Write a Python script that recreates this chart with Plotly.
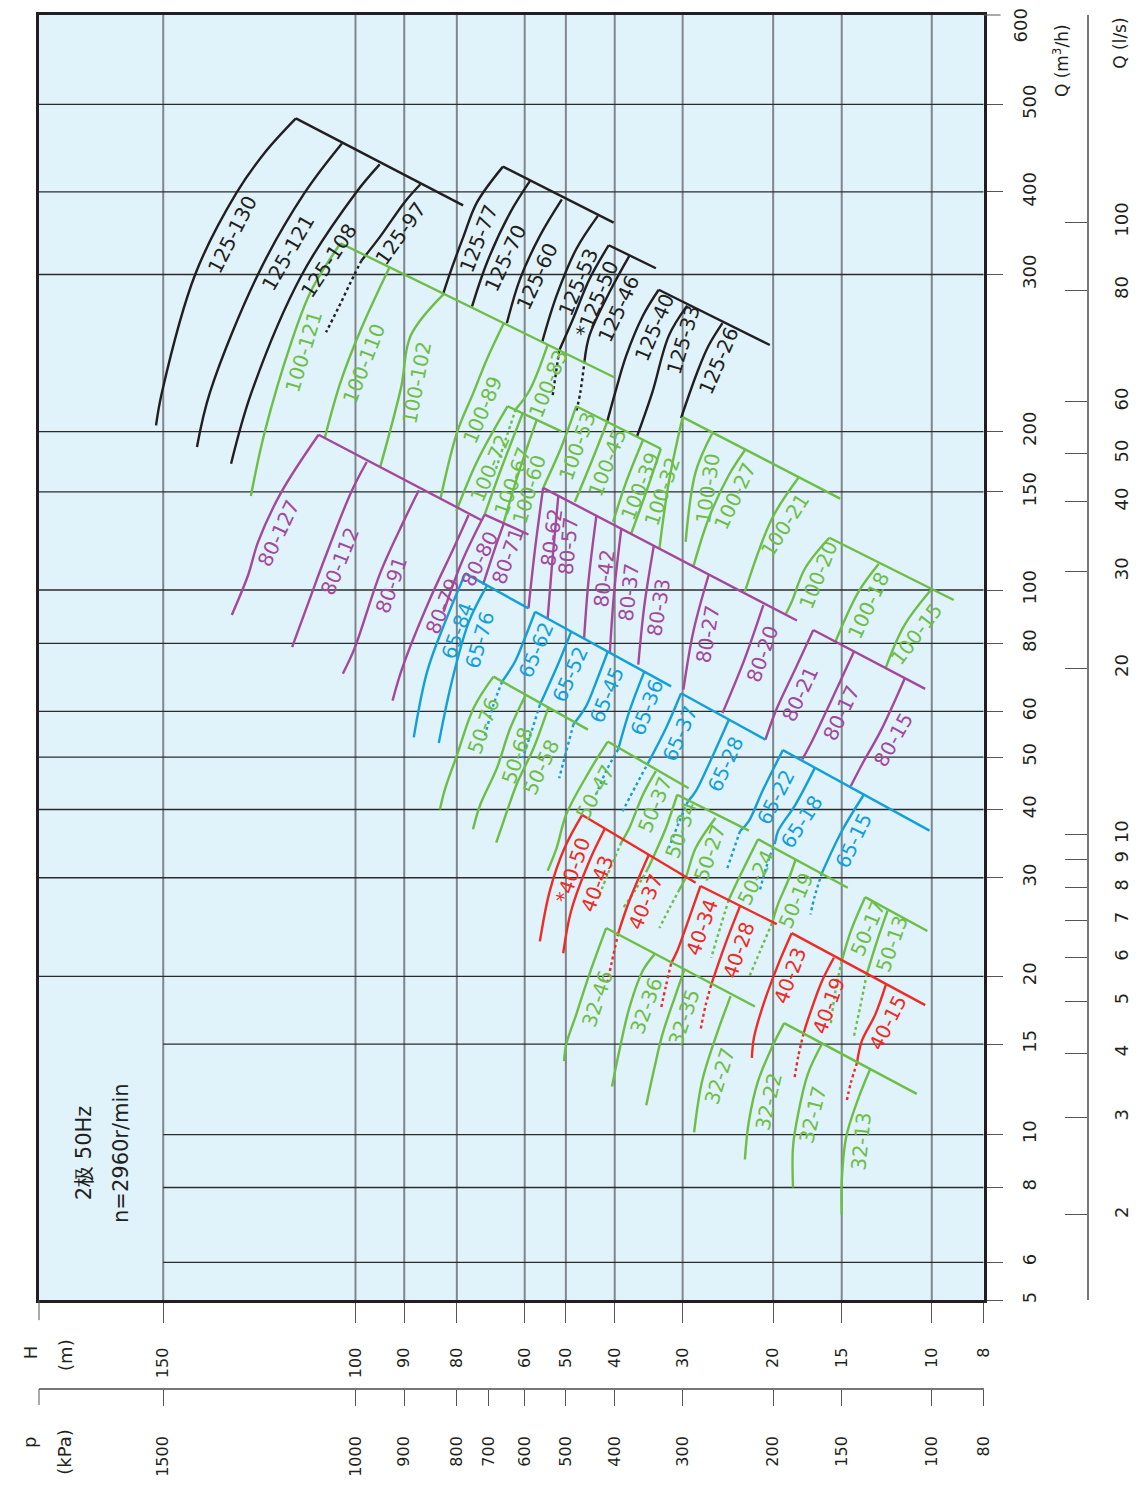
import math
import plotly.graph_objects as go

FONT = "DejaVu Sans"
INK = "#231f20"
BLACK = "#231f20"
GREEN = "#6dbe45"
PURPLE = "#a3489c"
BLUE = "#139fd8"
RED = "#ee2b24"
PLOT_BG = "#e0f2fa"

# ---------------------------------------------------------------------------
# Axis definitions: the grid is logarithmic, with the upper head/flow range
# drawn at an enlarged scale, so each axis is defined by where its printed
# ticks sit along the plot (0 = left/bottom, 1 = right/top).
# ---------------------------------------------------------------------------
H_TICKS = [150, 100, 90, 80, 60, 50, 40, 30, 20, 15, 10, 8]
H_TICK_AT = [0.1315, 0.3350, 0.3866, 0.4423, 0.5141, 0.5577, 0.6094, 0.6813, 0.7771, 0.8497, 0.9450, 1.0]
Q_TICKS = [600, 500, 400, 300, 200, 150, 100, 80, 60, 50, 40, 30, 20, 15, 10, 8, 6, 5]
Q_TICK_AT = [1.0, 0.9304, 0.8623, 0.7981, 0.6759, 0.6289, 0.5526, 0.5111, 0.4581, 0.4226,
             0.3818, 0.3287, 0.2519, 0.1993, 0.1289, 0.0877, 0.0295, 0.0]
P_TICKS = [1500, 1000, 900, 800, 700, 600, 500, 400, 300, 200, 150, 100, 80]      # kPa
LS_TICKS = [100, 80, 60, 50, 40, 30, 20, 10, 9, 8, 7, 6, 5, 4, 3, 2]              # l/s
V_GRID = [150, 100, 90, 80, 60, 50, 40, 30, 20, 15, 10]
H_GRID = [500, 400, 300, 200, 150, 100, 80, 60, 50, 40, 30, 20, 15, 10, 8, 6]

# ---------------------------------------------------------------------------
# Pump curves, H in m and Q in m3/h, listed from the high-flow end downwards.
# *_END is the far end of the line that joins the high-flow ends of a family.
# *_EXT holds the dotted continuation of a curve (None when there is none).
# ---------------------------------------------------------------------------
F125A_MODELS = ["125-130", "125-121", "125-108", "125-97"]
F125A_H = [[113.4, 121.1, 128.5, 140.2, 150.4, 152.3], [102.9, 111.3, 122.8, 135.9, 139.7],
           [94.9, 99.9, 112.1, 124.5, 130.0], [86.8, 90.0, 94.7, 98.7]]
F125A_Q = [[482.5, 442.1, 399, 300.3, 221.4, 203.2], [452.7, 399, 300.3, 221.4, 185.8],
           [429.2, 399, 299, 221.4, 171.6], [407.9, 385.4, 343.2, 315.0]]
F125A_EXT = [None, None, None, ([98.7, 100.2, 103.1, 106.4], [315, 300.3, 279.1, 258.4])]
F125A_END = (77.9, 381.8)
F125A_LABEL_AT = [0.39, 0.36, 0.32, 0.53]

F125B_MODELS = ["125-77", "125-70", "125-60", "125-53"]
F125B_H = [[65.8, 73.5, 77.7, 81.4, 82.5], [58.6, 63.8, 70.4, 75.0],
           [50.9, 56.1, 61.2, 64.7], [43.2, 47.7, 52.1, 55.5]]
F125B_Q = [[426.7, 385.4, 343.2, 299.0, 285.2], [411.4, 372.2, 312.8, 276.3],
           [389.8, 343.2, 296.4, 264.6], [368, 327.6, 284, 252.3]]
F125B_EXT = None
F125B_END = (40.2, 359.5)
F125B_LABEL_AT = [0.54, 0.58, 0.59, 0.5]

F125C_MODELS = ["*125-50", "125-46"]
F125C_H = [[41.1, 44.9, 48.4, 51.5], [37.6, 41.0, 44.9, 45.9]]
F125C_Q = [[332.2, 296.4, 267.4, 246.5], [320.2, 286.4, 256.2, 240.4]]
F125C_EXT = [([51.5, 53.0], [246.5, 219.7]), ([45.9, 46.8, 47.7], [240.4, 221.4, 210.3])]
F125C_END = (33.6, 306.6)
F125C_LABEL_AT = [0.47, 0.46]

F125D_MODELS = ["125-40", "125-33", "125-26"]
F125D_H = [[33.2, 35.5, 38.1, 39.9, 41.4], [29.4, 31.8, 34.1, 36.4], [25.1, 26.7, 28.1, 30.2]]
F125D_Q = [[288.4, 269.7, 243.3, 221.4, 205.2], [276.8, 256.2, 221.4, 195.3], [264.6, 249.7, 233.1, 207.1]]
F125D_EXT = None
F125D_END = (20.3, 250.1)
F125D_LABEL_AT = [0.26, 0.25, 0.35]

F100A_MODELS = ["100-121", "100-110", "100-102", "100-89", "100-83"]
F100A_H = [[103.2, 109.8, 114.5, 121.1, 124.7], [93.0, 98.8, 103.2, 106.7], [82.4, 88.7, 90.6, 94.8],
           [65.6, 70.4, 74.5, 79.9, 83.0], [54.2, 58.7, 62.3]]
F100A_Q = [[334.5, 287.7, 251.8, 199.5, 147.5], [306.6, 260.6, 227.2, 193.9], [285.2, 256.2, 224.3, 168.9],
           [264.4, 241.2, 221.4, 199.5, 145.7], [250.1, 222.5, 211.9]]
F100A_EXT = [None, None, None, None, ([62.3, 65.0, 67.8], [211.9, 193.0, 167.3])]
F100A_END = (40.1, 230.1)
F100A_LABEL_AT = [0.43, 0.54, 0.52, 0.47, 0.5]

F100B_MODELS = ["100-72", "100-67", "100-60"]
F100B_H = [[64.5, 73.5, 80.1], [60.5, 66.1, 71.1], [56.9, 61.5, 65.6]]
F100B_Q = [[213.5, 173.0, 138.5], [209.7, 168.9, 136.6], [206.0, 165.0, 132.0]]
F100B_EXT = None
F100B_END = (51.0, 200.1)
F100B_LABEL_AT = [0.55, 0.62, 0.64]

F100C_MODELS = ["100-53", "100-45", "100-39", "100-32"]
F100C_H = [[47.7, 51.0, 55.3], [41.3, 44.5, 48.0], [35.5, 38.1, 40.3], [32.9, 35.0, 37.3]]
F100C_Q = [[213.5, 185.8, 152.9], [205.8, 173.0, 143.9], [191.8, 157.3, 132.5], [184.3, 150, 126.3]]
F100C_EXT = None
F100C_END = (32.9, 184.3)
F100C_LABEL_AT = [0.42, 0.45, 0.5, 0.45]

F100D_MODELS = ["", "100-30", "100-27", "100-21"]
F100D_H = [[30.0, 31.8, 33.1], [26.3, 28.3, 29.6], [22.7, 24.4, 26.7, 28.6], [18.0, 20.1, 22.7]]
F100D_Q = [[207.6, 157.3, 118.7], [197.9, 165.0, 122.0], [182.9, 162.4, 134.4, 110.1], [160.3, 134.4, 99.3]]
F100D_EXT = None
F100D_END = (15.1, 145.9)
F100D_LABEL_AT = [0.5, 0.5, 0.36, 0.37]

F100E_MODELS = ["100-20", "100-18", "100-15"]
F100E_H = [[15.8, 17.5, 18.5, 19.0], [12.7, 13.9, 15.4], [10.0, 11.3, 12.3]]
F100E_Q = [[124.1, 109.3, 95.2, 90.1], [111.3, 99.3, 80.6], [100.4, 86.4, 72.2]]
F100E_EXT = None
F100E_END = (9.1, 95.9)
F100E_LABEL_AT = [0.45, 0.47, 0.49]

F80A_MODELS = ["80-127", "80-112", "80-91", "80-79"]
F80A_H = [[108.1, 116.9, 122.8, 125.4, 129.8], [97.6, 100.9, 106.7, 109.8, 114.3],
          [87.1, 90.0, 94.7, 100.2, 102.7], [76.1, 80.6, 84.9, 90.4, 92.3]]
F80A_Q = [[197, 150, 122, 106.4, 90.1], [173, 150, 113.9, 97.9, 78.7],
          [151.2, 133.5, 107.8, 78.3, 70.4], [136.3, 118.7, 96.6, 72.0, 62.8]]
F80A_EXT = None
F80A_END = (72.2, 133.6)
F80A_LABEL_AT = [0.53, 0.51, 0.5, 0.47]

F80B_MODELS = ["80-80", "80-71"]
F80B_H = [[71.1, 78.3, 82.4], [65.6, 68.4, 71.6]]
F80B_Q = [[136.6, 112.4, 91.3], [131.4, 117.1, 102.2]]
F80B_EXT = None
F80B_END = (59.0, 125.8)
F80B_LABEL_AT = [0.4, 0.45]

F80C_MODELS = ["80-62", "80-57", "80-42", "80-37", "80-33", "80-27", "80-20"]
F80C_H = [[55.3, 57.4, 59.0], [51.7, 53.1, 54.2], [43.5, 45.1, 46.0], [38.9, 40.1, 40.9],
          [33.9, 35.3, 36.2], [26.7, 28.6, 29.9], [20.9, 22.7, 25.1]]
F80C_Q = [[152.9, 117.1, 92.6], [147.5, 112.4, 88.7], [135.9, 103.5, 81.8], [128.8, 99.3, 76.9],
          [120.0, 93.3, 73.1], [106.4, 84.0, 65.8], [93.9, 75.1, 59.6]]
F80C_EXT = None
F80C_END = (18.1, 88.0)
F80C_LABEL_AT = [0.4, 0.4, 0.5, 0.5, 0.5, 0.5, 0.4]

F80E_MODELS = ["80-21", "80-17", "80-15"]
F80E_H = [[16.9, 18.2, 19.8, 20.7], [14.2, 15.7, 17.0, 17.7], [11.3, 12.6, 13.7, 14.4]]
F80E_Q = [[84.6, 72.0, 60.0, 53.6], [77.2, 62.6, 53.2, 49.5], [68.9, 55.4, 48.4, 44.2]]
F80E_EXT = None
F80E_END = (10.3, 66.0)
F80E_LABEL_AT = [0.53, 0.51, 0.49]

F65A_MODELS = ["65-84", "65-76"]
F65A_H = [[77.2, 82.1, 85.5, 88.1], [70.4, 76.0, 80.9, 83.3]]
F65A_Q = [[107.1, 87.6, 71.0, 54.1], [101.8, 87.6, 68.1, 52.9]]
F65A_EXT = None
F65A_END = (59.0, 92.6)
F65A_LABEL_AT = [0.33, 0.33]

F65B_MODELS = ["65-62", "65-52", "65-45", "65-36"]
F65B_H = [[57.3, 60.3, 62.5, 66.0], [48.8, 51.5, 56.1], [41.3, 43.5, 45.6, 48.3], [35.3, 37.6, 39.4]]
F65B_Q = [[91.3, 80.6, 74.1, 68.1], [84.0, 74.1, 61.7], [77.2, 68.1, 61.3, 57.0], [70.9, 60.0, 51.6]]
F65B_EXT = [([66.0, 68.5, 71.2], [68.1, 61.7, 53.8]), ([56.1, 58.2, 60.5], [61.7, 55.4, 49.8]),
            ([48.3, 49.9, 51.5], [57.0, 51.2, 45.7]), ([39.4, 41.6, 43.5], [51.6, 47.1, 42.7])]
F65B_END = (31.5, 66.7)
F65B_LABEL_AT = [0.45, 0.5, 0.5, 0.4]

F65C_MODELS = ["65-37", "65-28"]
F65C_H = [[30.2, 32.2, 34.6], [24.4, 26.7, 28.3, 29.3]]
F65C_Q = [[64.8, 56.1, 49.1], [58.0, 48.4, 43.2, 41.4]]
F65C_EXT = [([34.6, 36.6, 38.7], [49.1, 44.2, 39.7]), ([29.3, 30.5, 31.8], [41.4, 37.8, 34.0])]
F65C_END = (20.7, 53.6)
F65C_LABEL_AT = [0.5, 0.45]

F65D_MODELS = ["65-22", "65-18", "65-15"]
F65D_H = [[19.2, 21.0, 22.3, 23.2], [16.8, 18.2, 19.6, 19.8], [13.6, 15.0, 16.3]]
F65D_Q = [[51.4, 43.2, 38.1, 36.5], [47.7, 40.9, 36.5, 35.0], [42.5, 36.5, 30.6]]
F65D_EXT = [([23.2, 24.6], [36.5, 31.1]), ([19.8, 20.6, 21.2], [35.0, 31.5, 28.6]),
            ([16.3, 16.8, 17.1], [30.6, 27.8, 25.8])]
F65D_END = (10.1, 36.6)
F65D_LABEL_AT = [0.49, 0.63, 0.52]

F50A_MODELS = ["50-76", "50-68", "50-58"]
F50A_H = [[68.5, 74.5, 79.9, 82.1, 83.1], [59.7, 63.8, 67.5, 72.4, 74.7], [54.1, 57.7, 62.1, 65.6, 67.7]]
F50A_Q = [[69.5, 60.9, 50.5, 43.8, 40.0], [64.4, 56.1, 47.7, 40.9, 36.8], [60.8, 51.8, 44.5, 38.1, 34.8]]
F50A_EXT = None
F50A_END = (45.2, 55.8)
F50A_LABEL_AT = [0.35, 0.42, 0.39]

F50B_MODELS = ["50-47", "50-37"]
F50B_H = [[41.3, 44.9, 49.9, 52.1, 54.2], [33.6, 35.5, 37.6, 38.9]]
F50B_Q = [[53.2, 47.1, 39.2, 34.0, 30.9], [47.1, 42.6, 37.0, 34.8]]
F50B_EXT = [None, ([38.9, 41.2, 43.2], [34.8, 30.6, 27.5])]
F50B_END = (29.2, 43.8)
F50B_LABEL_AT = [0.35, 0.4]

F50C_MODELS = ["50-34", "50-27"]
F50C_H = [[30.7, 32.2, 33.8, 34.8], [25.9, 28.3, 29.6, 30.4]]
F50C_Q = [[42.6, 37.0, 33.1, 31.1], [38.6, 34.0, 30.0, 28.6]]
F50C_EXT = [([34.8, 36.6, 38.7], [31.1, 28.6, 26.4]), ([30.4, 31.7, 33.1], [28.6, 26.5, 24.4])]
F50C_END = (22.3, 36.6)
F50C_LABEL_AT = [0.4, 0.45]

F50D_MODELS = ["50-24", "50-19"]
F50D_H = [[21.4, 23.3, 24.4], [18.2, 18.8, 19.6, 20.1]]
F50D_Q = [[35.3, 30.0, 27.4], [32.4, 29.6, 26.9, 24.9]]
F50D_EXT = [([24.4, 25.3, 26.4], [27.4, 24.6, 21.6]), ([20.1, 21.2, 22.3], [24.9, 22.2, 19.9])]
F50D_END = (14.6, 28.8)
F50D_LABEL_AT = [0.53, 0.56]

F50E_MODELS = ["50-17", "50-13"]
F50E_H = [[13.5, 14.4, 15.0], [12.2, 12.8, 13.4]]
F50E_Q = [[27.7, 24.1, 21.3], [26.2, 23.1, 20.2]]
F50E_EXT = [([15.0, 15.4, 15.7], [21.3, 18.8, 16.4]), ([13.4, 13.8, 14.2], [20.2, 17.6, 15.5])]
F50E_END = (10.2, 24.1)
F50E_LABEL_AT = [0.4, 0.45]

F40A_MODELS = ["*40-50", "40-43", "40-37"]
F40A_H = [[46.4, 50.3, 53.7, 56.1], [41.9, 44.9, 48.8, 50.6], [34.6, 37.6, 39.4]]
F40A_Q = [[39.1, 34.0, 28.4, 23.1], [36.8, 32.2, 26.2, 22.0], [33.1, 27.3, 23.9]]
F40A_EXT = [None, None, ([39.4, 40.5, 41.3], [23.9, 21.3, 19.6])]
F40A_END = (28.3, 29.4)
F40A_LABEL_AT = [0.42, 0.41, 0.53]

F40B_MODELS = ["40-34", "40-28"]
F40B_H = [[27.7, 29.6, 30.7, 31.5], [23.2, 24.8, 26.4]]
F40B_Q = [[29.0, 24.4, 22.2, 21.1], [26.7, 22.8, 19.3]]
F40B_EXT = [([31.5, 32.2, 32.9], [21.1, 19.2, 17.4]), ([26.4, 27.1, 27.7], [19.3, 17.6, 15.9])]
F40B_END = (19.7, 24.8)
F40B_LABEL_AT = [0.47, 0.5]

F40C_MODELS = ["40-23", "40-19", "40-15"]
F40C_H = [[18.5, 19.7, 21.0, 21.8, 22.0], [15.5, 16.3, 17.3, 17.6], [12.3, 12.9, 13.7, 14.0]]
F40C_Q = [[23.9, 20.7, 17.5, 15.4, 14.1], [21.6, 19.6, 16.6, 15.7], [19.3, 17.0, 15.2, 13.8]]
F40C_EXT = [None, ([17.6, 18.0, 18.3], [15.7, 14.2, 12.8]), ([14.0, 14.4, 14.7], [13.8, 12.6, 11.5])]
F40C_END = (10.3, 17.7)
F40C_LABEL_AT = [0.31, 0.58, 0.4]

F32A_MODELS = ["32-46", "32-36", "32-35", "32-27"]
F32A_H = [[41.6, 44.9, 47.7, 49.9, 50.4], [33.8, 35.5, 37.6, 39.2, 40.5],
          [29.8, 30.9, 32.7, 33.8, 35.0], [24.2, 25.9, 27.5, 28.5]]
F32A_Q = [[24.4, 20.2, 17.0, 15.0, 13.9], [21.9, 20.5, 17.5, 14.6, 12.4],
          [20.5, 18.5, 15.6, 13.5, 11.4], [18.4, 15.4, 12.7, 10.1]]
F32A_EXT = None
F32A_END = (21.7, 17.6)
F32A_LABEL_AT = [0.5, 0.37, 0.32, 0.56]

F32B_MODELS = ["32-22", "32-17", "32-13"]
F32B_H = [[19.1, 20.1, 21.4, 22.3, 22.7], [16.3, 17.3, 18.0, 18.4, 18.4], [13.2, 13.9, 14.7, 15.0, 15.0]]
F32B_Q = [[16.4, 14.8, 12.7, 10.6, 9.0], [15.0, 13.1, 11.0, 9.5, 8.0], [13.4, 11.8, 9.9, 8.2, 7.2]]
F32B_EXT = None
F32B_END = (10.7, 12.0)
F32B_LABEL_AT = [0.57, 0.48, 0.5]

FAMILIES = [
    (BLACK, F125A_MODELS, F125A_H, F125A_Q, F125A_EXT, F125A_END, F125A_LABEL_AT),
    (BLACK, F125B_MODELS, F125B_H, F125B_Q, F125B_EXT, F125B_END, F125B_LABEL_AT),
    (BLACK, F125C_MODELS, F125C_H, F125C_Q, F125C_EXT, F125C_END, F125C_LABEL_AT),
    (BLACK, F125D_MODELS, F125D_H, F125D_Q, F125D_EXT, F125D_END, F125D_LABEL_AT),
    (GREEN, F100A_MODELS, F100A_H, F100A_Q, F100A_EXT, F100A_END, F100A_LABEL_AT),
    (GREEN, F100B_MODELS, F100B_H, F100B_Q, F100B_EXT, F100B_END, F100B_LABEL_AT),
    (GREEN, F100C_MODELS, F100C_H, F100C_Q, F100C_EXT, F100C_END, F100C_LABEL_AT),
    (GREEN, F100D_MODELS, F100D_H, F100D_Q, F100D_EXT, F100D_END, F100D_LABEL_AT),
    (GREEN, F100E_MODELS, F100E_H, F100E_Q, F100E_EXT, F100E_END, F100E_LABEL_AT),
    (PURPLE, F80A_MODELS, F80A_H, F80A_Q, F80A_EXT, F80A_END, F80A_LABEL_AT),
    (PURPLE, F80B_MODELS, F80B_H, F80B_Q, F80B_EXT, F80B_END, F80B_LABEL_AT),
    (PURPLE, F80C_MODELS, F80C_H, F80C_Q, F80C_EXT, F80C_END, F80C_LABEL_AT),
    (PURPLE, F80E_MODELS, F80E_H, F80E_Q, F80E_EXT, F80E_END, F80E_LABEL_AT),
    (BLUE, F65A_MODELS, F65A_H, F65A_Q, F65A_EXT, F65A_END, F65A_LABEL_AT),
    (BLUE, F65B_MODELS, F65B_H, F65B_Q, F65B_EXT, F65B_END, F65B_LABEL_AT),
    (BLUE, F65C_MODELS, F65C_H, F65C_Q, F65C_EXT, F65C_END, F65C_LABEL_AT),
    (BLUE, F65D_MODELS, F65D_H, F65D_Q, F65D_EXT, F65D_END, F65D_LABEL_AT),
    (GREEN, F50A_MODELS, F50A_H, F50A_Q, F50A_EXT, F50A_END, F50A_LABEL_AT),
    (GREEN, F50B_MODELS, F50B_H, F50B_Q, F50B_EXT, F50B_END, F50B_LABEL_AT),
    (GREEN, F50C_MODELS, F50C_H, F50C_Q, F50C_EXT, F50C_END, F50C_LABEL_AT),
    (GREEN, F50D_MODELS, F50D_H, F50D_Q, F50D_EXT, F50D_END, F50D_LABEL_AT),
    (GREEN, F50E_MODELS, F50E_H, F50E_Q, F50E_EXT, F50E_END, F50E_LABEL_AT),
    (RED, F40A_MODELS, F40A_H, F40A_Q, F40A_EXT, F40A_END, F40A_LABEL_AT),
    (RED, F40B_MODELS, F40B_H, F40B_Q, F40B_EXT, F40B_END, F40B_LABEL_AT),
    (RED, F40C_MODELS, F40C_H, F40C_Q, F40C_EXT, F40C_END, F40C_LABEL_AT),
    (GREEN, F32A_MODELS, F32A_H, F32A_Q, F32A_EXT, F32A_END, F32A_LABEL_AT),
    (GREEN, F32B_MODELS, F32B_H, F32B_Q, F32B_EXT, F32B_END, F32B_LABEL_AT),
]


def make_scale(values, positions):
    """Piecewise-logarithmic scale through the printed tick positions."""
    pairs = sorted(zip([math.log(v) for v in values], positions))

    def scale(val):
        x = math.log(val)
        for i in range(len(pairs) - 1):
            if x <= pairs[i + 1][0] or i == len(pairs) - 2:
                (x0, p0), (x1, p1) = pairs[i], pairs[i + 1]
                return p0 + (p1 - p0) * (x - x0) / (x1 - x0)
    return scale


h_pos = make_scale(H_TICKS, H_TICK_AT)
q_pos = make_scale(Q_TICKS, Q_TICK_AT)

# page geometry
W, HGT = 1144, 1489
M_L, M_R, M_T, M_B = 39, 44, 12, 100
PAPER_W = W - M_L - M_R
PAPER_H = HGT - M_T - M_B
PLOT_W = 951.0
PLOT_H = 1288.0
X_DOMAIN = [0, PLOT_W / PAPER_W]
Y_DOMAIN = [1 - PLOT_H / PAPER_H, 1]


def px_paper(x, y):
    return (x - M_L) / PAPER_W, (HGT - M_B - y) / PAPER_H


def label_spot(us, vs, t, gap):
    xs = [u * PLOT_W for u in us]
    ys = [v * PLOT_H for v in vs]
    seg = [math.hypot(xs[i + 1] - xs[i], ys[i + 1] - ys[i]) for i in range(len(xs) - 1)]
    target = t * sum(seg)
    acc = 0.0
    for i, s in enumerate(seg):
        if acc + s >= target or i == len(seg) - 1:
            f = (target - acc) / s if s else 0.0
            px = xs[i] + (xs[i + 1] - xs[i]) * f
            py = ys[i] + (ys[i + 1] - ys[i]) * f
            tx, ty = xs[i] - xs[i + 1], ys[i] - ys[i + 1]
            break
        acc += s
    n = math.hypot(tx, ty)
    tx, ty = tx / n, ty / n
    nx, ny = ty, -tx
    cx, cy = px + nx * gap, py + ny * gap
    return cx / PLOT_W, cy / PLOT_H, -math.degrees(math.atan2(ty, tx))


fig = go.Figure()
annotations = []
LW = 2.4

for color, models, hs, qs, ext, end, label_at in FAMILIES:
    fig.add_trace(go.Scatter(
        x=[h_pos(hs[0][0]), h_pos(end[0])], y=[q_pos(qs[0][0]), q_pos(end[1])],
        mode="lines", line=dict(color=color, width=LW), hoverinfo="skip"))
    for i, name in enumerate(models):
        us = [h_pos(v) for v in hs[i]]
        vs = [q_pos(v) for v in qs[i]]
        fig.add_trace(go.Scatter(x=us, y=vs, mode="lines",
                                 line=dict(color=color, width=LW, shape="spline"), hoverinfo="skip"))
        if ext and ext[i]:
            eh, eq = ext[i]
            fig.add_trace(go.Scatter(x=[h_pos(v) for v in eh], y=[q_pos(v) for v in eq], mode="lines",
                                     line=dict(color=color, width=LW, dash="dot", shape="spline"),
                                     hoverinfo="skip"))
        if name:
            cx, cy, ang = label_spot(us, vs, label_at[i], 15)
            annotations.append(dict(x=cx, y=cy, xref="x", yref="y", text=name, textangle=ang,
                                    showarrow=False, xanchor="center", yanchor="middle",
                                    font=dict(family=FONT, size=20, color=color)))

# carrier for the kPa and l/s scales
fig.add_trace(go.Scatter(x=[None], y=[None], xaxis="x2", yaxis="y3", hoverinfo="skip"))

shapes = []
for h in V_GRID:
    x = h_pos(h)
    shapes.append(dict(type="line", xref="x", yref="y", x0=x, x1=x, y0=0, y1=1, layer="below",
                       line=dict(color="#80868c", width=2)))
for q in H_GRID:
    y = q_pos(q)
    x0 = h_pos(150) if q <= 15 else 0
    shapes.append(dict(type="line", xref="x", yref="y", x0=x0, x1=1, y0=y, y1=y, layer="below",
                       line=dict(color="#2b2b2b", width=1.3)))

# end ticks at the plot corners (top flow tick, left ends of the H and p scales)
x_a, y_a = px_paper(990, 12)
x_b, _ = px_paper(1007, 12)
shapes.append(dict(type="line", xref="paper", yref="paper", x0=x_a, x1=x_b, y0=y_a, y1=y_a,
                   line=dict(color="#555", width=1)))
for y_top, y_bot in [(1300, 1320), (1389, 1405)]:
    _, y0 = px_paper(39, y_top)
    _, y1 = px_paper(39, y_bot)
    shapes.append(dict(type="line", xref="paper", yref="paper", x0=0, x1=0, y0=y0, y1=y1,
                       line=dict(color="#555", width=1)))

# axis titles, top flow label and chart note
for text, (x, y), size in [
    ("600", (1028, 22), 18),
    ("Q (m<sup>3</sup>/h)", (1068, 58), 17),
    ("Q (l/s)", (1127, 40), 17),
    ("H", (30, 1352), 18),
    ("(m)", (65, 1355), 18),
    ("p", (30, 1443), 18),
    ("(kPa)", (65, 1452), 18),
    ("2极 50Hz", (84, 1152), 21),
    ("n=2960r/min", (121, 1152), 21),
]:
    xp, yp = px_paper(x, y)
    annotations.append(dict(x=xp, y=yp, xref="paper", yref="paper", text=text, textangle=-90,
                            showarrow=False, xanchor="center", yanchor="middle",
                            font=dict(family=FONT, size=size, color=INK)))

tick_font = dict(family=FONT, size=16, color=INK)
q_axis_ticks = Q_TICKS[1:]
fig.update_layout(
    width=W, height=HGT,
    margin=dict(l=M_L, r=M_R, t=M_T, b=M_B, pad=0),
    paper_bgcolor="white", plot_bgcolor=PLOT_BG,
    showlegend=False, hovermode=False,
    font=dict(family=FONT, color=INK),
    xaxis=dict(range=[0, 1], domain=X_DOMAIN, showgrid=False, zeroline=False,
               showline=True, mirror=True, linecolor=INK, linewidth=3,
               ticks="outside", ticklen=20, tickwidth=1, tickcolor="#555",
               tickvals=[h_pos(h) for h in H_TICKS], ticktext=[str(h) for h in H_TICKS],
               tickangle=-90, tickfont=tick_font, ticklabelstandoff=18),
    yaxis=dict(range=[0, 1], domain=Y_DOMAIN, side="right", showgrid=False, zeroline=False,
               showline=True, mirror=True, linecolor=INK, linewidth=3,
               ticks="outside", ticklen=16, tickwidth=1, tickcolor="#555",
               tickvals=[q_pos(q) for q in q_axis_ticks], ticktext=[str(q) for q in q_axis_ticks],
               tickangle=-90, tickfont=dict(family=FONT, size=18, color=INK), ticklabelstandoff=12),
    xaxis2=dict(range=[0, 1], overlaying="x", anchor="free", position=0, side="bottom",
                showgrid=False, zeroline=False, showline=True, linecolor="#777", linewidth=1.5,
                ticks="outside", ticklen=16, tickwidth=1, tickcolor="#555",
                tickvals=[h_pos(p / 10) for p in P_TICKS], ticktext=[str(p) for p in P_TICKS],
                tickangle=-90, tickfont=tick_font, ticklabelstandoff=24),
    yaxis3=dict(range=[0, 1], overlaying="y", anchor="free", position=(1095 - M_L) / PAPER_W,
                side="right", showgrid=False, zeroline=False, showline=True, linecolor="#777",
                linewidth=1.5, ticks="inside", ticklen=22, tickwidth=1, tickcolor="#555",
                tickvals=[q_pos(3.6 * q) for q in LS_TICKS], ticktext=[str(q) for q in LS_TICKS],
                tickangle=-90, tickfont=dict(family=FONT, size=18, color=INK), ticklabelstandoff=18),
    shapes=shapes,
    annotations=annotations,
)

fig.write_html("out.html")
